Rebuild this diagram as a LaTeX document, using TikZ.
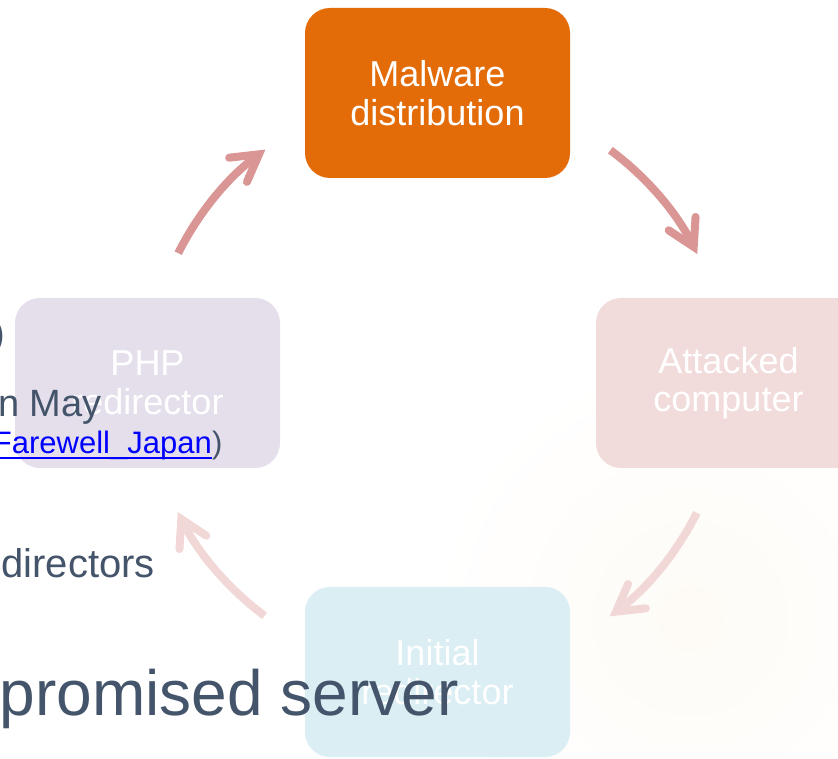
\documentclass[tikz,border=0pt]{standalone}
\usepackage{fontspec}
\setmainfont{Liberation Sans}
\usetikzlibrary{arrows.meta}
\definecolor{malc}{RGB}{227,108,9}
\definecolor{phpc}{RGB}{229,223,236}
\definecolor{attc}{RGB}{242,220,219}
\definecolor{inic}{RGB}{218,238,243}
\definecolor{arrdark}{RGB}{217,150,148}
\definecolor{arrlight}{RGB}{241,216,215}
\definecolor{slidec}{RGB}{68,84,106}
\definecolor{creamc}{RGB}{254,251,246}
\definecolor{linkc}{RGB}{0,0,255}
\begin{document}
\begin{tikzpicture}[x=1pt,y=1pt,
  stage/.style={rounded corners=25pt, minimum width=265pt, minimum height=170pt, inner sep=0pt, align=center, text=white, font=\fontsize{36}{38.5}\selectfont},
  cyc/.style={line width=8pt, -{Straight Barb[length=26pt, width=30pt, line cap=round, line join=miter]}},
  slide/.style={inner sep=0pt, text=slidec}
]
\useasboundingbox (0,0) rectangle (838,758);
\clip (0,0) rectangle (838,758);
\fill[white] (0,0) rectangle (838,758);
\shade[inner color=creamc, outer color=white] (690,140) circle (260);

% stages
\node[stage, fill=malc]  (mal) at (437.5,665) {Malware\\distribution};
\node[stage, fill=attc]  (att) at (728.5,375) {Attacked\\computer};
\node[stage, fill=inic]  (ini) at (437.5,86)  {Initial\\redirector};
\node[stage, fill=phpc]  (php) at (147.5,375) {PHP\\redirector};
\coordinate (ctr) at (437.5,375);

% cycle arrows
\coordinate (a1) at ([shift={(153.4:290)}]ctr);
\coordinate (a2) at ([shift={(53.4:290)}]ctr);
\coordinate (a3) at ([shift={(-26.6:290)}]ctr);
\coordinate (a4) at ([shift={(-126.6:290)}]ctr);
\draw[cyc, arrdark]  (a1) arc[start angle=153.4, end angle=126.4, radius=290];
\draw[cyc, arrdark]  (a2) arc[start angle=53.4, end angle=26.4, radius=290];
\draw[cyc, arrlight] (a3) arc[start angle=-26.6, end angle=-53.6, radius=290];
\draw[cyc, arrlight] (a4) arc[start angle=-126.6, end angle=-153.6, radius=290];

% slide text in front
\node[slide, anchor=base east, font=\fontsize{38}{44}\selectfont] (par) at (5,411) {)};
\node[slide, anchor=base east, font=\fontsize{38}{44}\selectfont] (may) at (102,341) {n May};
\node[inner sep=0pt, anchor=base east, text=linkc, font=\fontsize{31}{36}\selectfont] (fj) at (212,304) {Farewell\_Japan};
\node[slide, anchor=base west, font=\fontsize{31}{36}\selectfont] (fjp) at (fj.base east) {)};
\draw[linkc, line width=2.5pt] ([yshift=-4pt]fj.base west) -- ([yshift=-4pt]fj.base east);
\node[slide, anchor=base east, font=\fontsize{40}{46}\selectfont] (dir) at (155,180) {directors};
\node[slide, anchor=base east, font=\fontsize{64}{76}\selectfont] (srv) at (459,43) {promised server};
\end{tikzpicture}
\end{document}
